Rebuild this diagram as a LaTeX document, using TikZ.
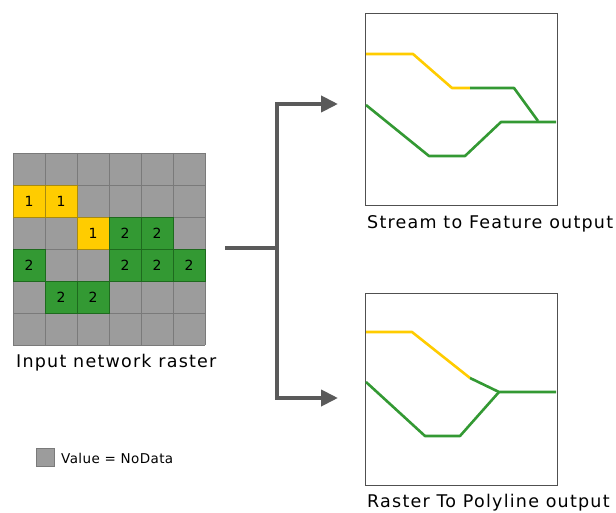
\documentclass[tikz,border=0pt]{standalone}
\usepackage{fontspec}
\setmainfont{DejaVu Sans}
\usetikzlibrary{arrows.meta}
\definecolor{nodata}{HTML}{9C9C9C}
\definecolor{gridline}{HTML}{7A7A7A}
\definecolor{streamyellow}{HTML}{FFCC00}
\definecolor{yellowedge}{HTML}{A88A10}
\definecolor{streamgreen}{HTML}{339933}
\definecolor{greenedge}{HTML}{1E6A1E}
\definecolor{flowgray}{HTML}{5A5A5A}
\definecolor{frame}{HTML}{505050}
\newfontfamily\captionfont[LetterSpace=7]{DejaVu Sans}
\newfontfamily\legendfont[LetterSpace=3]{DejaVu Sans}
\tikzset{
  cellbox/.style={minimum size=32pt, inner sep=0pt, font=\fontsize{14}{16}\selectfont, line width=0.9pt},
  one/.style={cellbox, fill=streamyellow, draw=yellowedge},
  two/.style={cellbox, fill=streamgreen, draw=greenedge},
  panel/.style={draw=frame, line width=1pt, fill=white, minimum width=192pt, minimum height=192pt, inner sep=0pt},
  caption/.style={font=\captionfont\fontsize{17.5}{20}\selectfont, inner sep=0pt},
  flow/.style={draw=flowgray, line width=4pt},
  flowarrow/.style={flow, -{Triangle[length=17pt,width=16pt]}},
  yline/.style={draw=streamyellow, line width=2.6pt, line join=round},
  gline/.style={draw=streamgreen, line width=2.6pt, line join=round},
}
\begin{document}
\begin{tikzpicture}[x=1pt,y=-1pt]
\useasboundingbox (0,0) rectangle (616,513);

% NoData background grid, 6 x 6 cells of 32pt
\fill[nodata] (13,153) rectangle (205,345);
\foreach \k in {0,...,6} {
  \draw[gridline, line width=0.9pt] (13+32*\k,153) -- (13+32*\k,345);
  \draw[gridline, line width=0.9pt] (13,153+32*\k) -- (205,153+32*\k);
}

% stream cells: value 1
\node[one] (c11) at (29,201) {1};
\node[one] (c12) at (61,201) {1};
\node[one] (c23) at (93,233) {1};
% stream cells: value 2
\node[two] (c24) at (125,233) {2};
\node[two] (c25) at (157,233) {2};
\node[two] (c31) at (29,265) {2};
\node[two] (c34) at (125,265) {2};
\node[two] (c35) at (157,265) {2};
\node[two] (c36) at (189,265) {2};
\node[two] (c42) at (61,297) {2};
\node[two] (c43) at (93,297) {2};

\node[caption, anchor=west] (inlabel) at (16,363) {Input network raster};

% legend
\node[draw=gridline, fill=nodata, line width=0.8pt, minimum size=18pt, inner sep=0pt] (legbox) at (45,457.5) {};
\node[font=\legendfont\fontsize{13.5}{15}\selectfont, inner sep=0pt, anchor=west] (legtext) at (61,458) {Value = NoData};

% output panels
\node[panel] (top) at (461,109.5) {};
\node[panel] (bottom) at (461,389) {};
\node[caption, anchor=west] (toplabel) at (367,224) {Stream to Feature output};
\node[caption, anchor=west] (botlabel) at (367,503) {Raster To Polyline output};

% branching flow arrow
\coordinate (start) at (225,248);
\coordinate (split) at (277,248);
\coordinate (uptip) at (338,104);
\coordinate (downtip) at (338,398);
\draw[flow] (start) -- (split);
\draw[flowarrow] (split) |- (uptip);
\draw[flowarrow] (split) |- (downtip);

% Stream to Feature lines
\draw[yline] (366,54) -- (413,54) -- (452,88) -- (470,88);
\draw[gline] (470,88) -- (514,88) -- (538,121);
\draw[gline] (366,105) -- (429,156) -- (465,156) -- (501,122) -- (556,122);

% Raster To Polyline lines
\draw[yline] (366,332) -- (412,332) -- (470,378);
\draw[gline] (470,378) -- (499,392) -- (556,392);
\draw[gline] (366,382) -- (425,436) -- (460,436) -- (499,392);
\end{tikzpicture}
\end{document}
